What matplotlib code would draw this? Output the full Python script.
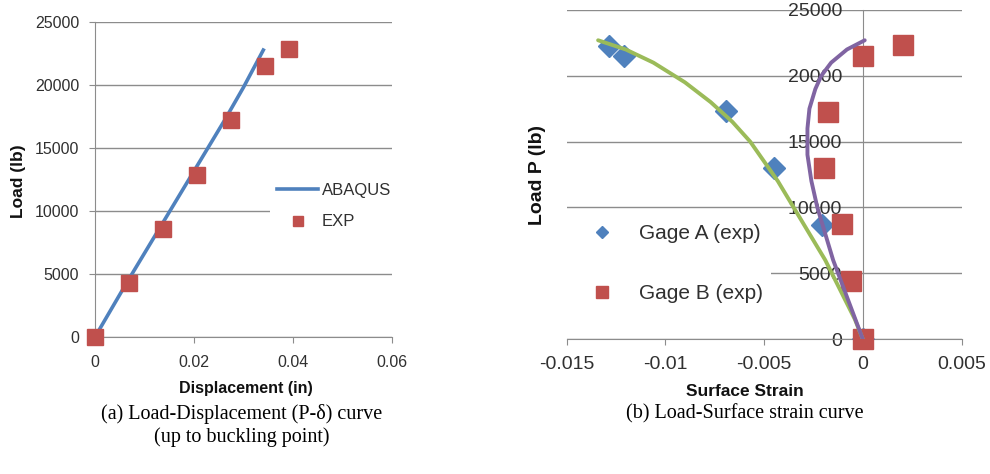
import matplotlib
matplotlib.use("Agg")
from matplotlib import pyplot as plt

# (a) load-displacement data
abaqus_x = [0, 0.0064, 0.0130, 0.0196, 0.0262, 0.0300, 0.0340]
abaqus_y = [0, 4300, 8600, 12900, 17200, 19800, 22750]
exp_x = [0, 0.0068, 0.0137, 0.0206, 0.0274, 0.0343, 0.0391]
exp_y = [0, 4280, 8550, 12860, 17210, 21520, 22810]

# (b) load-surface strain data
gageA_x = [0, -0.00204, -0.00449, -0.00693, -0.01208, -0.01286]
gageA_y = [0, 8630, 12990, 17310, 21500, 22260]
gageB_x = [0.0, -0.00057, -0.00103, -0.00197, -0.00175, 0.0, 0.00205]
gageB_y = [0, 4370, 8710, 12990, 17260, 21520, 22340]
fitA_x = [0, -0.0004, -0.0009, -0.0014, -0.0019, -0.0025, -0.0031, -0.0037, -0.0043,
          -0.0050, -0.0057, -0.0066, -0.0077, -0.0090, -0.0106, -0.0120, -0.0134]
fitA_y = [0, 1500, 3000, 4500, 6000, 7500, 9000, 10500, 12000,
          13500, 15000, 16500, 18000, 19500, 21000, 22000, 22700]
fitB_x = [0, -0.0005, -0.0010, -0.0015, -0.0019, -0.0023, -0.0026, -0.0028,
          -0.0028, -0.0027, -0.0024, -0.0021, -0.0016, -0.0008, 0.0001]
fitB_y = [0, 2000, 4000, 6000, 8000, 10000, 12000, 14000,
          16000, 17500, 19000, 20000, 21000, 22000, 22700]

left_ticks_x = [0, 0.02, 0.04, 0.06]
left_ticks_y = [0, 5000, 10000, 15000, 20000, 25000]
right_ticks_x = [-0.015, -0.01, -0.005, 0, 0.005]
right_ticks_y = [0, 5000, 10000, 15000, 20000, 25000]

plt.rcParams['font.family'] = ['Liberation Sans', 'DejaVu Sans']
grey = '#8c8c8c'
txt = '#303030'
W, H = 990, 474

fig = plt.figure(figsize=(9.9, 4.74), dpi=100)

# ---- left chart ----
ax1 = fig.add_axes([95/W, 1-337/H, 297/W, (337-21.7)/H])
ax1.plot(abaqus_x, abaqus_y, color='#4F81BD', lw=2.6, label='ABAQUS', zorder=3)
ax1.plot(exp_x, exp_y, 's', color='#C0504D', ms=12, mec='#C0504D', label='EXP', zorder=4, clip_on=False)
ax1.set_xlim(0, 0.06)
ax1.set_ylim(0, 25000)
ax1.set_xticks(left_ticks_x)
ax1.set_xticklabels(['0', '0.02', '0.04', '0.06'])
ax1.set_yticks(left_ticks_y)
ax1.grid(axis='y', color=grey, lw=1)
ax1.set_axisbelow(True)
for s in ['top', 'right']:
    ax1.spines[s].set_visible(False)
for s in ['left', 'bottom']:
    ax1.spines[s].set_color(grey)
ax1.tick_params(axis='both', colors=grey, labelcolor=txt, length=4.3, labelsize=11.5)
ax1.tick_params(axis='y', pad=7)
ax1.tick_params(axis='x', pad=9)
leg1 = ax1.legend(loc='upper left', bbox_to_anchor=(270/W, 1-176/H), bbox_transform=fig.transFigure,
                  fontsize=12, handlelength=2.5, handletextpad=0.2, labelspacing=1.0,
                  borderaxespad=0, frameon=True, fancybox=False, framealpha=1,
                  edgecolor='none', facecolor='white', markerscale=0.6)
for t in leg1.get_texts():
    t.set_color(txt)

# ---- right chart ----
ax2 = fig.add_axes([566.5/W, 1-339/H, 395/W, (339-10)/H])
ax2.plot(gageA_x, gageA_y, 'D', color='#4F81BD', ms=11, label='Gage A (exp)', zorder=3)
ax2.plot(gageB_x, gageB_y, 's', color='#C0504D', ms=14.5, label='Gage B (exp)', zorder=3, clip_on=False)
ax2.plot(fitA_x, fitA_y, color='#9BBB59', lw=2.8, solid_capstyle='round', solid_joinstyle='round', zorder=4)
ax2.plot(fitB_x, fitB_y, color='#8064A2', lw=2.8, solid_capstyle='round', solid_joinstyle='round', zorder=4)
ax2.set_xlim(-0.015, 0.005)
ax2.set_ylim(0, 25000)
ax2.set_xticks(right_ticks_x)
ax2.set_xticklabels(['-0.015', '-0.01', '-0.005', '0', '0.005'])
ax2.set_yticks(right_ticks_y)
ax2.grid(axis='y', color=grey, lw=1)
ax2.set_axisbelow(True)
for s in ['top', 'right']:
    ax2.spines[s].set_visible(False)
ax2.spines['left'].set_position(('data', 0))
for s in ['left', 'bottom']:
    ax2.spines[s].set_color(grey)
ax2.tick_params(axis='both', colors=grey, labelcolor=txt, labelsize=14)
ax2.tick_params(axis='x', length=4.3, pad=8)
ax2.tick_params(axis='y', length=0, pad=15)
leg2 = ax2.legend(loc='upper left', bbox_to_anchor=(567/W, 1-216/H), bbox_transform=fig.transFigure,
                  fontsize=15, handlelength=2.6, handletextpad=0.45, labelspacing=1.95,
                  borderaxespad=0, frameon=True, fancybox=False, framealpha=1,
                  edgecolor='none', facecolor='white', markerscale=0.6)
for t in leg2.get_texts():
    t.set_color(txt)

# axis titles
fig.text(19/W, 1-181/H, 'Load (lb)', rotation=90, ha='center', va='center',
         fontsize=12.5, fontweight='bold', color='#111111')
fig.text(538/W, 1-175/H, 'Load P (lb)', rotation=90, ha='center', va='center',
         fontsize=14, fontweight='bold', color='#111111')
fig.text(246/W, 1-389/H, 'Displacement (in)', ha='center', va='center',
         fontsize=11.5, fontweight='bold', color='#111111')
fig.text(745/W, 1-392/H, 'Surface Strain', ha='center', va='center',
         fontsize=12.5, fontweight='bold', color='#111111')

# captions
fig.text(242/W, 1-414/H, '(a) Load-Displacement (P-\u03b4) curve', ha='center', va='center',
         fontsize=14.5, family='Liberation Serif', color='black')
fig.text(242/W, 1-437/H, '(up to buckling point)', ha='center', va='center',
         fontsize=14.5, family='Liberation Serif', color='black')
fig.text(745/W, 1-414/H, '(b) Load-Surface strain curve', ha='center', va='center',
         fontsize=14.5, family='Liberation Serif', color='black')

fig.savefig('out.png', dpi=100)
